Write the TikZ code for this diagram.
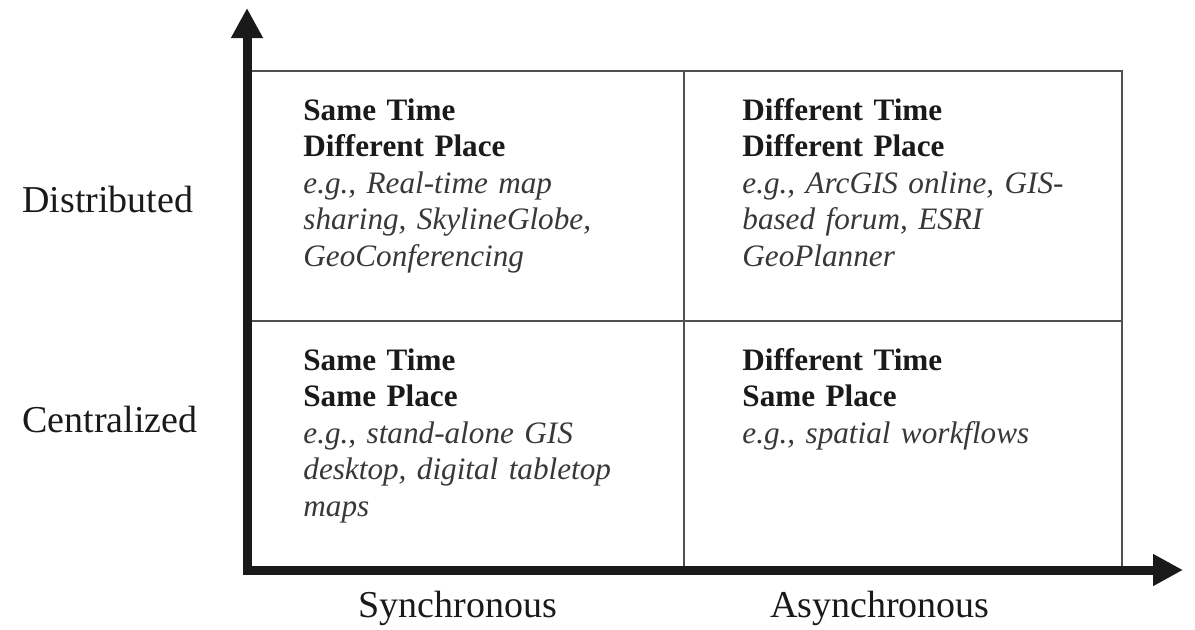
\documentclass[tikz,border=0pt]{standalone}
\usepackage{fontspec}
\setmainfont{Liberation Serif}
\usetikzlibrary{arrows.meta}
\definecolor{gridgray}{HTML}{505050}
\definecolor{axisblack}{HTML}{1A1A1A}
\definecolor{exgray}{HTML}{383838}
\begin{document}
\begin{tikzpicture}[x=0.5pt,y=-0.5pt,
  cell/.style={anchor=base west, inner sep=0pt, text width=175pt, align=left,
    font=\fontsize{15.6}{18.25}\selectfont, text=axisblack},
  axislabel/.style={inner sep=0pt, font=\fontsize{19}{22}\selectfont, text=axisblack},
  gridline/.style={draw=gridgray, line width=1.3pt},
  axisline/.style={draw=axisblack, line width=4.5pt, line join=miter,
    {Triangle[width=15pt,length=15pt]}-{Triangle[width=15pt,length=15pt]}},
  ex/.style={}]
\useasboundingbox (0,0) rectangle (1195,629);
% grid
\coordinate (tl) at (247,71);
\coordinate (br) at (1122,570);
\coordinate (mt) at (684,71);
\coordinate (mb) at (684,570);
\coordinate (ml) at (247,321);
\coordinate (mr) at (1122,321);
\draw[gridline] (tl) rectangle (br);
\draw[gridline] (mt) -- (mb);
\draw[gridline] (ml) -- (mr);
% axes
\coordinate (ytip) at (247,8);
\coordinate (xtip) at (1183,570);
\draw[axisline] (ytip) |- (xtip);
% axis labels
\node[axislabel, anchor=base west] (dist) at (22,212) {Distributed};
\node[axislabel, anchor=base west] (cent) at (22,432) {Centralized};
\node[axislabel, anchor=base] (sync) at (458,617) {Synchronous};
\node[axislabel, anchor=base] (async) at (880,617) {Asynchronous};
% cells
\node[cell] (q1) at (303,120) {\textbf{Same Time}\\\textbf{Different Place}\\
  {\color{exgray}\itshape e.g., Real-time map\\sharing, SkylineGlobe,\\GeoConferencing}};
\node[cell] (q2) at (742,120) {\textbf{Different Time}\\\textbf{Different Place}\\
  {\color{exgray}\itshape e.g., ArcGIS online, GIS-\\based forum, ESRI\\GeoPlanner}};
\node[cell] (q3) at (303,370) {\textbf{Same Time}\\\textbf{Same Place}\\
  {\color{exgray}\itshape e.g., stand-alone GIS\\desktop, digital tabletop\\maps}};
\node[cell] (q4) at (742,370) {\textbf{Different Time}\\\textbf{Same Place}\\
  {\color{exgray}\itshape e.g., spatial workflows}};
\end{tikzpicture}
\end{document}
